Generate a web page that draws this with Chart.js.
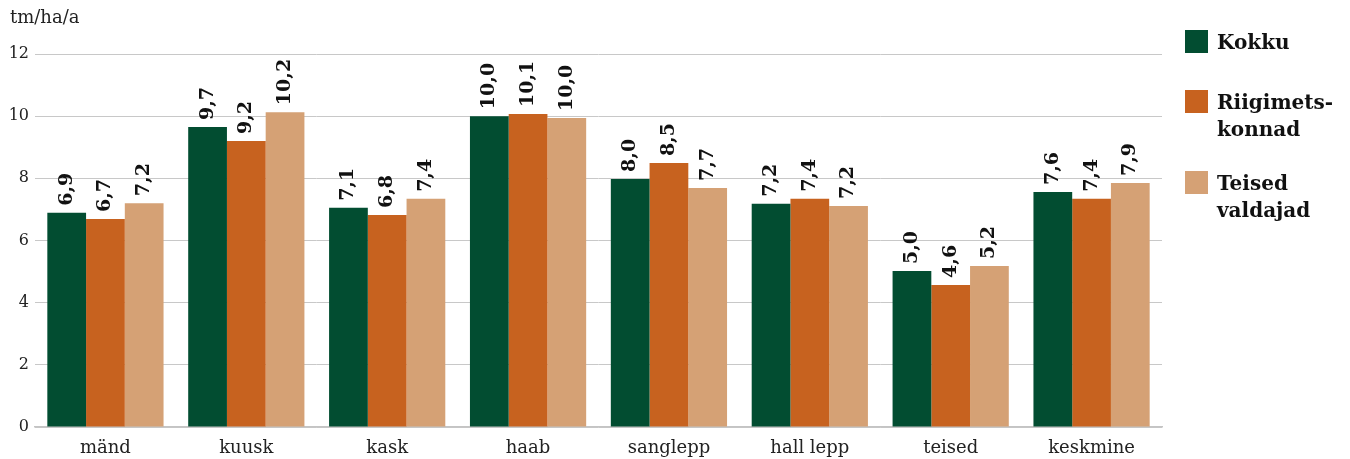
<!DOCTYPE html>
<html>
<head>
<meta charset="utf-8">
<script src="https://cdn.jsdelivr.net/npm/chart.js@4/dist/chart.umd.min.js"></script>
<style>
body { margin: 0; background: #fff; }
#wrap { position: relative; width: 1350px; height: 459px; }
#legend { position: absolute; left: 1185px; top: 0; font-family: "DejaVu Serif", serif; font-weight: bold; font-size: 20px; color: #111; }
.item { position: absolute; left: 0; width: 170px; }
.sw { position: absolute; left: 0; top: 0; width: 23px; height: 23px; }
.txt { position: absolute; left: 32px; top: -1px; line-height: 27px; white-space: nowrap; }
</style>
</head>
<body>
<div id="wrap">
<canvas id="chart" width="1350" height="459"></canvas>
<div id="legend"></div>
</div>
<script>
// data
const categories = ["mänd", "kuusk", "kask", "haab", "sanglepp", "hall lepp", "teised", "keskmine"]
const kokku = [6.89, 9.65, 7.05, 10.0, 7.98, 7.18, 5.02, 7.56]
const riigi = [6.69, 9.2, 6.82, 10.07, 8.49, 7.34, 4.57, 7.34]
const teised = [7.2, 10.13, 7.34, 9.94, 7.69, 7.11, 5.18, 7.85]
const kokkuLabels = ["6,9", "9,7", "7,1", "10,0", "8,0", "7,2", "5,0", "7,6"]
const riigiLabels = ["6,7", "9,2", "6,8", "10,1", "8,5", "7,4", "4,6", "7,4"]
const teisedLabels = ["7,2", "10,2", "7,4", "10,0", "7,7", "7,2", "5,2", "7,9"]
const yTicks = [0, 2, 4, 6, 8, 10, 12]
const seriesNames = [["Kokku"], ["Riigimets-", "konnad"], ["Teised", "valdajad"]]
const colors = ["#024d31", "#c7621f", "#d5a175"]

const serif = "'DejaVu Serif', serif"

// legend on the right
const legendTops = [30, 90, 171]
let legend = document.getElementById("legend")
seriesNames.forEach((lines, i) => {
	legend.innerHTML += `
		<div class="item" style="top:${legendTops[i]}px">
			<div class="sw" style="background:${colors[i]}"></div>
			<div class="txt">${lines.join("<br>")}</div>
		</div>`
})

// rotated value labels above bars
const barLabels = {
	id: "barLabels",
	afterDatasetsDraw(chart) {
		const ctx = chart.ctx
		const all = [kokkuLabels, riigiLabels, teisedLabels]
		ctx.save()
		ctx.font = "bold 19px " + serif
		ctx.fillStyle = "#111"
		ctx.textAlign = "left"
		ctx.textBaseline = "middle"
		chart.data.datasets.forEach((ds, i) => {
			chart.getDatasetMeta(i).data.forEach((bar, j) => {
				ctx.save()
				ctx.translate(bar.x, bar.y - 7)
				ctx.rotate(-Math.PI / 2)
				ctx.fillText(all[i][j], 0, 0)
				ctx.restore()
			})
		})
		ctx.restore()
	}
}

// unit text at top left
const unitTitle = {
	id: "unitTitle",
	afterDraw(chart) {
		const ctx = chart.ctx
		ctx.save()
		ctx.font = "18px " + serif
		ctx.fillStyle = "#222"
		ctx.textAlign = "left"
		ctx.textBaseline = "middle"
		ctx.fillText("tm/ha/a", 10, 18)
		ctx.restore()
	}
}

new Chart(document.getElementById("chart"), {
	type: "bar",
	data: {
		labels: categories,
		datasets: [
			{ label: "Kokku", data: kokku, backgroundColor: colors[0] },
			{ label: "Riigimetskonnad", data: riigi, backgroundColor: colors[1] },
			{ label: "Teised valdajad", data: teised, backgroundColor: colors[2] }
		]
	},
	options: {
		responsive: false,
		animation: false,
		layout: { padding: { top: 54, right: 188, bottom: 0, left: 0 } },
		datasets: { bar: { categoryPercentage: 0.825, barPercentage: 1 } },
		plugins: {
			legend: { display: false },
			tooltip: { enabled: false }
		},
		scales: {
			x: {
				afterFit(scale) { scale.height = 32 },
				grid: { display: false },
				border: { display: true, color: "#c4c4c4", width: 1.5 },
				ticks: { color: "#222", font: { family: serif, size: 18 }, padding: 3 }
			},
			y: {
				min: 0,
				max: 12,
				afterFit(scale) { scale.width = 35 },
				afterBuildTicks(scale) { scale.ticks = yTicks.map(v => ({ value: v })) },
				grid: { color: "#c8c8c8", drawTicks: false },
				border: { display: false },
				ticks: { color: "#222", font: { family: serif, size: 16 }, padding: 6 }
			}
		}
	},
	plugins: [barLabels, unitTitle]
})
</script>
</body>
</html>
